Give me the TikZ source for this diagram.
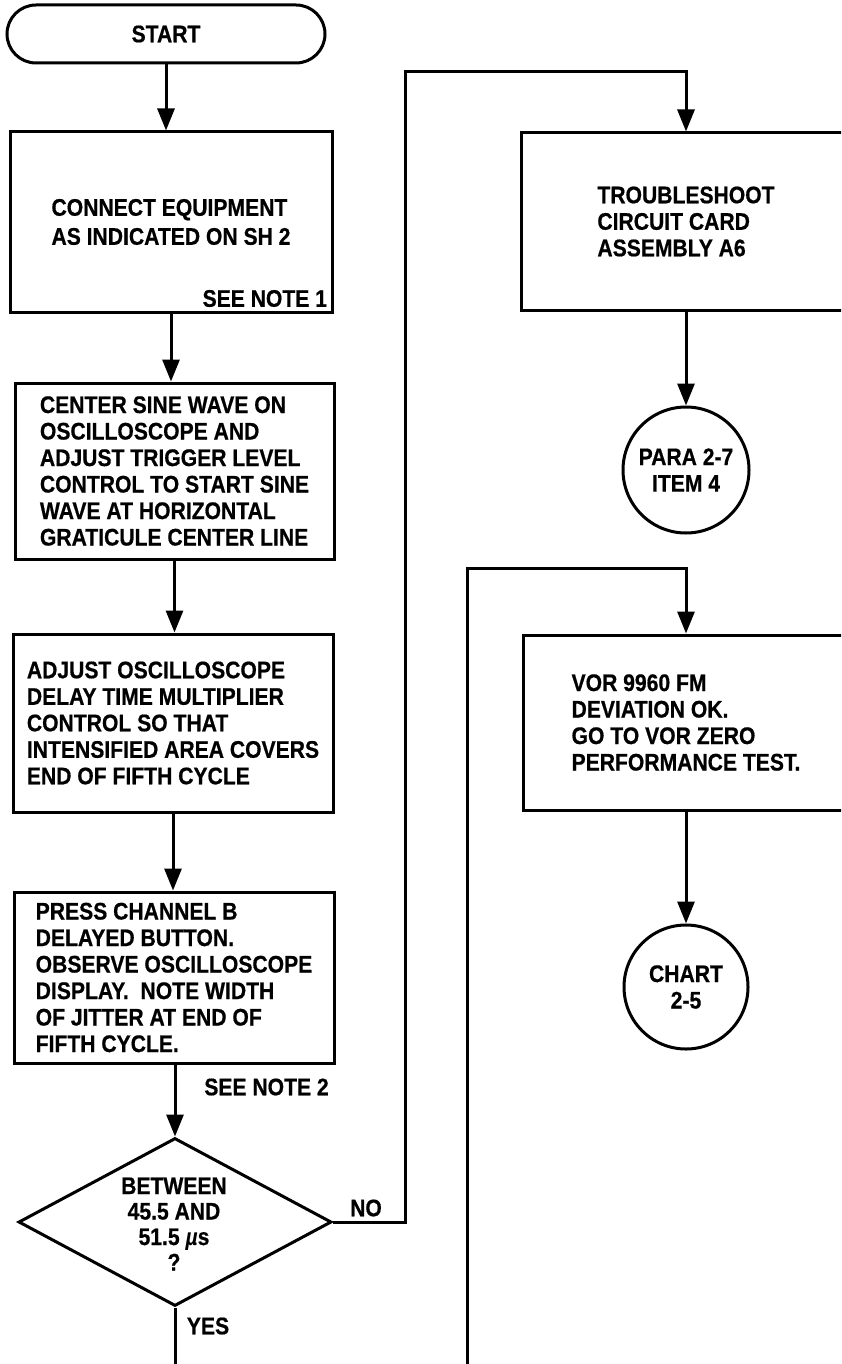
\documentclass[tikz,border=0pt]{standalone}
\usepackage{fontspec}
\setmainfont[FakeStretch=0.88, BoldFeatures={FakeBold=0.6}]{Liberation Sans}
\usetikzlibrary{arrows.meta,shapes.geometric}
\tikzset{
  txt/.style={font=\fontsize{24}{26.5}\selectfont\bfseries},
  box/.style={draw, rectangle, align=left, inner sep=0pt, txt},
  conn/.style={circle, draw, align=center, inner sep=0pt, txt},
  arr/.style={-{Triangle[length=22pt,width=17pt]}},
}
\begin{document}
\begin{tikzpicture}[x=1pt,y=-1pt,line width=3pt]
\useasboundingbox (0,0) rectangle (841,1364);
\clip (0,0) rectangle (841,1364);

% left column
\node[draw, rounded corners=29pt, minimum width=318pt, minimum height=58pt, inner sep=0pt, txt] (start) at (166,34) {START};
\node[box, minimum width=322pt, minimum height=180pt, font=\fontsize{24}{29}\selectfont\bfseries] (box1) at (171,222)
  {CONNECT EQUIPMENT\\AS INDICATED ON SH 2};
\node[txt, anchor=south east, inner sep=5pt] (note1) at (box1.south east) {SEE NOTE 1};
\node[box, minimum width=319pt, minimum height=176pt] (box2) at (174.5,471)
  {CENTER SINE WAVE ON\\OSCILLOSCOPE AND\\ADJUST TRIGGER LEVEL\\CONTROL TO START SINE\\WAVE AT HORIZONTAL\\GRATICULE CENTER LINE};
\node[box, minimum width=320pt, minimum height=178pt] (box3) at (173,723)
  {ADJUST OSCILLOSCOPE\\DELAY TIME MULTIPLIER\\CONTROL SO THAT\\INTENSIFIED AREA COVERS\\END OF FIFTH CYCLE};
\node[box, minimum width=320pt, minimum height=171pt] (box4) at (174,977.5)
  {PRESS CHANNEL B\\DELAYED BUTTON.\\OBSERVE OSCILLOSCOPE\\DISPLAY.\ \ NOTE WIDTH\\OF JITTER AT END OF\\FIFTH CYCLE.};
\node[txt] (note2) at (266.5,1087) {SEE NOTE 2};
\node[diamond, draw, minimum width=313pt, minimum height=168pt, inner sep=0pt] (dec) at (175,1222) {};
\node[txt, align=center, inner sep=0pt, font=\fontsize{24}{25.5}\selectfont\bfseries] (dectext) at (174,1224)
  {BETWEEN\\45.5 AND\\51.5 {\itshape µ}s\\?};
\node[txt] (nolbl) at (366,1208) {NO};
\node[txt] (yeslbl) at (208,1326) {YES};
\coordinate (yesend) at (175,1370);

% right column
\node[box, minimum width=330pt, minimum height=177pt] (box5) at (686,221.5)
  {TROUBLESHOOT\\CIRCUIT CARD\\ASSEMBLY A6};
\node[conn, minimum size=126pt] (para) at (686,470) {PARA 2-7\\ITEM 4};
\node[box, minimum width=326pt, minimum height=175pt] (box6) at (686,722.5)
  {VOR 9960 FM\\DEVIATION OK.\\GO TO VOR ZERO\\PERFORMANCE TEST.};
\node[conn, minimum size=124pt] (chart) at (686,987) {CHART\\2-5};
\coordinate (loopend) at (467,1370);

% connectors
\draw[arr] (start.south) -- (start.south |- box1.north);
\draw[arr] (box1.south) -- (box1.south |- box2.north);
\draw[arr] (box2.south) -- (box2.south |- box3.north);
\draw[arr] (box3.south) -- (box3.south |- box4.north);
\draw[arr] (box4.south -| dec.north) -- (dec.north);
\draw (dec.south) -- (yesend);
\draw[arr] (dec.east) -| (405,72) -| (box5.north);
\draw[arr] (box5.south) -- (para.north);
\draw[arr] (loopend) -- (467,568) -| (box6.north);
\draw[arr] (box6.south) -- (chart.north);
\end{tikzpicture}
\end{document}
